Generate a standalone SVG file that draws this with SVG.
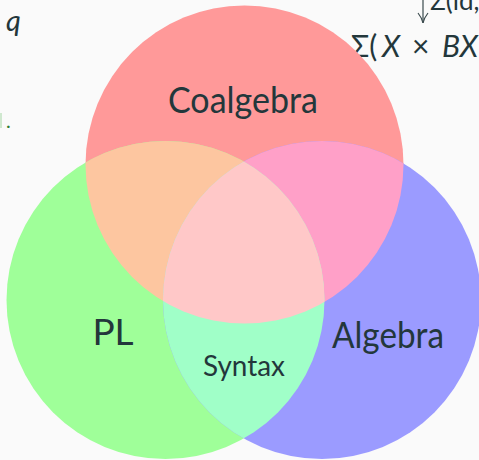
<svg xmlns="http://www.w3.org/2000/svg" width="479" height="460" viewBox="0 0 479 460">
  <style>
    .lbl { font-family: "Lato", "Open Sans", sans-serif; fill: #23373b; text-anchor: middle; }
    .big { font-size: 37px; }
    .small { font-size: 28px; }
    .bg { font-family: "Lato", "Open Sans", sans-serif; fill: #23373b; }
  </style>
  <defs>
    <clipPath id="cR"><circle cx="244.5" cy="164.5" r="159"/></clipPath>
    <clipPath id="cG"><circle cx="165.5" cy="300" r="159"/></clipPath>
    <marker id="arr" viewBox="0 0 12 12" refX="11" refY="6" markerWidth="12" markerHeight="12" markerUnits="userSpaceOnUse" orient="auto">
      <path d="M1,1 Q6,5 11,6 Q6,7 1,11" fill="none" stroke="#3a4a4d" stroke-width="1.2"/>
    </marker>
  </defs>
  <rect width="479" height="460" fill="#fafafa"/>

  <g id="background-text">
    <text class="bg" x="6" y="31" font-size="29" font-style="italic">q</text>
    <rect x="0" y="113" width="2" height="15" fill="#cfe8cf"/>
    <text x="6" y="128" font-family="Lato, sans-serif" font-size="20" fill="#2e7d32">.</text>
    <text class="bg" x="430" y="10" font-size="26">Σ(id,</text>
    <text class="bg" y="57" font-size="30"><tspan x="351">Σ(</tspan><tspan x="382" font-style="italic">X</tspan><tspan x="412">×</tspan><tspan x="442" font-style="italic">BX</tspan></text>
  </g>
  <g id="connectors">
    <line x1="423" y1="0" x2="423" y2="23" stroke="#3a4a4d" stroke-width="1.2" marker-end="url(#arr)"/>
  </g>

  <g id="coalgebra">
    <circle cx="244.5" cy="164.5" r="159" fill="#ff9999"/>
  </g>
  <g id="pl">
    <circle cx="165.5" cy="300" r="159" fill="#9fff99"/>
  </g>
  <g id="algebra">
    <circle cx="322" cy="300" r="159" fill="#9b9bff"/>
  </g>

  <g id="overlaps">
    <circle cx="165.5" cy="300" r="159" fill="#fdc6a0" clip-path="url(#cR)"/>
    <circle cx="322" cy="300" r="159" fill="#ffa0c8" clip-path="url(#cR)"/>
    <g id="syntax">
      <circle cx="322" cy="300" r="159" fill="#a0ffc8" clip-path="url(#cG)"/>
    </g>
    <g clip-path="url(#cR)">
      <circle cx="322" cy="300" r="159" fill="#ffc8c8" clip-path="url(#cG)"/>
    </g>
  </g>

  <g id="labels">
    <text class="lbl big" x="243" y="113" textLength="150" lengthAdjust="spacingAndGlyphs">Coalgebra</text>
    <text class="lbl big" x="113" y="345">PL</text>
    <text class="lbl big" x="388" y="348" textLength="112" lengthAdjust="spacingAndGlyphs">Algebra</text>
    <text class="lbl small" x="244" y="376" textLength="82" lengthAdjust="spacingAndGlyphs">Syntax</text>
  </g>
</svg>
